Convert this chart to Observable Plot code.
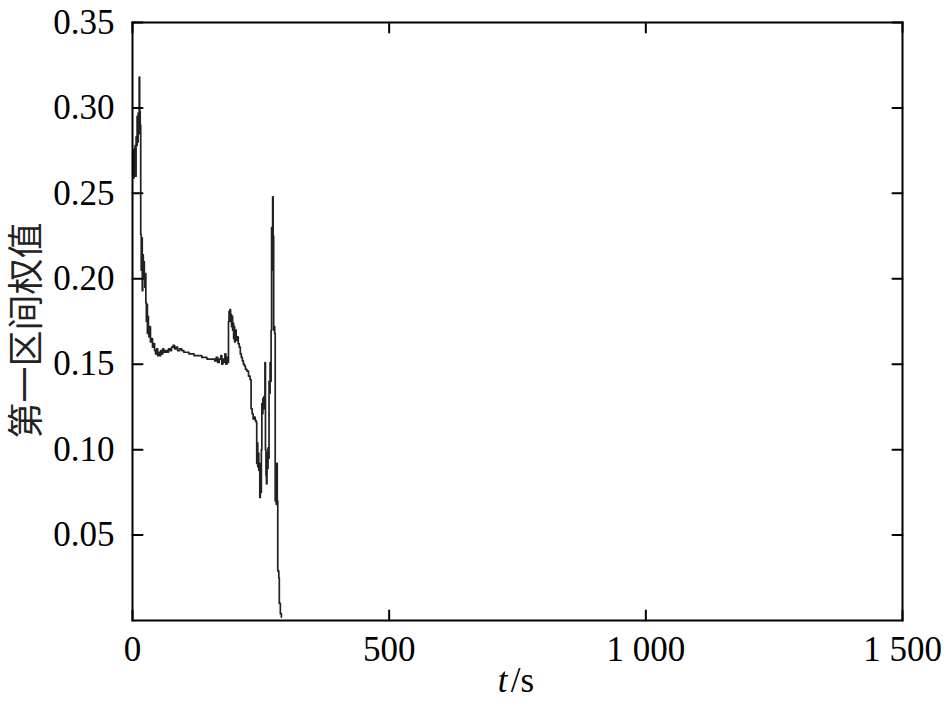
<!DOCTYPE html>
<html>
<head>
<meta charset="utf-8">
<script src="https://cdn.jsdelivr.net/npm/d3@7"></script>
<script src="https://cdn.jsdelivr.net/npm/@observablehq/plot@0.6"></script>
<style>
  html, body { margin: 0; padding: 0; background: #fff; }
</style>
</head>
<body>
<div id="chart"></div>
<script>
// time (s)
const tValues = [
  0, 1, 2, 3, 4, 5, 6, 7, 8, 9, 10, 11, 12, 13, 14, 15, 16, 17, 18, 19,
  20, 21, 22, 23, 24, 25, 26, 27, 28, 29, 30, 31, 32, 34, 35, 37, 39, 41, 43, 45,
  47, 49, 51, 53, 55, 57, 59, 61, 64, 67, 70, 73, 76, 79, 82, 85, 88, 92, 96, 100,
  105, 110, 115, 120, 125, 130, 135, 140, 145, 150, 155, 160, 163, 166, 169, 172, 174, 176, 178, 180,
  182, 184, 186, 187, 188, 189, 190, 191, 192, 193, 194, 195, 196, 197, 198, 199, 200, 202, 204, 206,
  208, 210, 212, 214, 216, 218, 220, 223, 226, 229, 231, 233, 235, 237, 239, 241, 242, 243, 244, 245,
  246, 247, 248, 249, 250, 251, 252, 253, 254, 255, 256, 257, 258, 259, 260, 261, 262, 263, 264, 265,
  266, 267, 268, 269, 270, 271, 272, 273, 274, 275, 276, 277, 278, 279, 280, 281, 282, 283, 285, 286,
  288, 290
];
// first-interval weight
const wValues = [
  0.262, 0.275, 0.259, 0.276, 0.262, 0.278, 0.260, 0.283, 0.278, 0.295, 0.280, 0.297, 0.285, 0.318, 0.298, 0.290, 0.226, 0.205, 0.224, 0.193,
  0.214, 0.200, 0.210, 0.200, 0.195, 0.203, 0.186, 0.175, 0.185, 0.168, 0.178, 0.170, 0.166, 0.172, 0.163, 0.165, 0.160, 0.162, 0.158, 0.156,
  0.159, 0.155, 0.157, 0.155, 0.158, 0.156, 0.159, 0.157, 0.158, 0.157, 0.159, 0.158, 0.160, 0.161, 0.159, 0.160, 0.158, 0.159, 0.158, 0.157,
  0.157, 0.156, 0.156, 0.155, 0.155, 0.155, 0.154, 0.154, 0.153, 0.153, 0.153, 0.152, 0.154, 0.151, 0.153, 0.155, 0.150, 0.153, 0.151, 0.156,
  0.150, 0.154, 0.151, 0.175, 0.181, 0.176, 0.182, 0.175, 0.179, 0.172, 0.178, 0.170, 0.174, 0.165, 0.172, 0.163, 0.170, 0.164, 0.166, 0.162,
  0.160, 0.156, 0.154, 0.152, 0.150, 0.149, 0.147, 0.146, 0.143, 0.141, 0.124, 0.121, 0.118, 0.119, 0.117, 0.116, 0.092, 0.104, 0.090, 0.098,
  0.088, 0.092, 0.072, 0.080, 0.075, 0.100, 0.127, 0.121, 0.130, 0.125, 0.131, 0.124, 0.151, 0.100, 0.085, 0.080, 0.098, 0.089, 0.101, 0.095,
  0.140, 0.133, 0.151, 0.140, 0.170, 0.230, 0.205, 0.248, 0.225, 0.170, 0.172, 0.168, 0.070, 0.090, 0.068, 0.092, 0.070, 0.029, 0.025, 0.010,
  0.004, 0.002
];
const xTicks = [0, 500, 1000, 1500];
const xTickLabels = ["0", "500", "1 000", "1 500"];
const yTicks = [0.05, 0.10, 0.15, 0.20, 0.25, 0.30, 0.35];
const yTickLabels = ["0.05", "0.10", "0.15", "0.20", "0.25", "0.30", "0.35"];
const yLabel = "第一区间权值";
const xLabelItalic = "t";
const xLabelRest = "/s";

const data = tValues.map((t, i) => ({t, w: wValues[i]}));

const tickShape = {
  draw(context, l) { context.moveTo(0, 0); context.lineTo(0, -l); }
};
const tickStyle = {shape: tickShape, anchor: "start", length: 10, stroke: "#000", strokeWidth: 2};

const chart = Plot.plot({
  width: 945,
  height: 705,
  marginTop: 22,
  marginBottom: 85,
  marginLeft: 132,
  marginRight: 43,
  style: {fontFamily: "'Liberation Serif', 'Times New Roman', serif", fontSize: "35px", color: "#000", background: "#fff"},
  x: {domain: [0, 1500]},
  y: {domain: [0, 0.35]},
  marks: [
    Plot.line(data, {x: "t", y: "w", curve: "step-after", stroke: "#222", strokeWidth: 1.7}),
    Plot.frame({stroke: "#000", strokeWidth: 2}),
    // inward ticks
    Plot.vector(xTicks, {x: d => d, frameAnchor: "bottom", rotate: 0, ...tickStyle}),
    Plot.vector(xTicks, {x: d => d, frameAnchor: "top", rotate: 180, ...tickStyle}),
    Plot.vector(yTicks, {y: d => d, frameAnchor: "left", rotate: 90, ...tickStyle}),
    Plot.vector(yTicks, {y: d => d, frameAnchor: "right", rotate: 270, ...tickStyle}),
    Plot.axisX({ticks: xTicks, tickSize: 0, tickPadding: 16, tickFormat: (d, i) => xTickLabels[i], label: null}),
    Plot.axisY({ticks: yTicks, tickSize: 0, tickPadding: 18, tickFormat: (d, i) => yTickLabels[i], label: null}),
    Plot.text([yLabel], {frameAnchor: "left", textAnchor: "middle", rotate: -90, dx: -105, dy: 9, fontFamily: "'Noto Sans CJK SC', sans-serif", fontSize: 36, fill: "#222", text: d => d}),
    Plot.text([xLabelItalic], {frameAnchor: "bottom", dx: -15, dy: 71, fontStyle: "italic", textAnchor: "middle", text: d => d, fill: "#000"}),
    Plot.text([xLabelRest], {frameAnchor: "bottom", dx: 5, dy: 71, textAnchor: "middle", text: d => d, fill: "#000"})
  ]
});
document.getElementById("chart").appendChild(chart);
</script>
</body>
</html>
